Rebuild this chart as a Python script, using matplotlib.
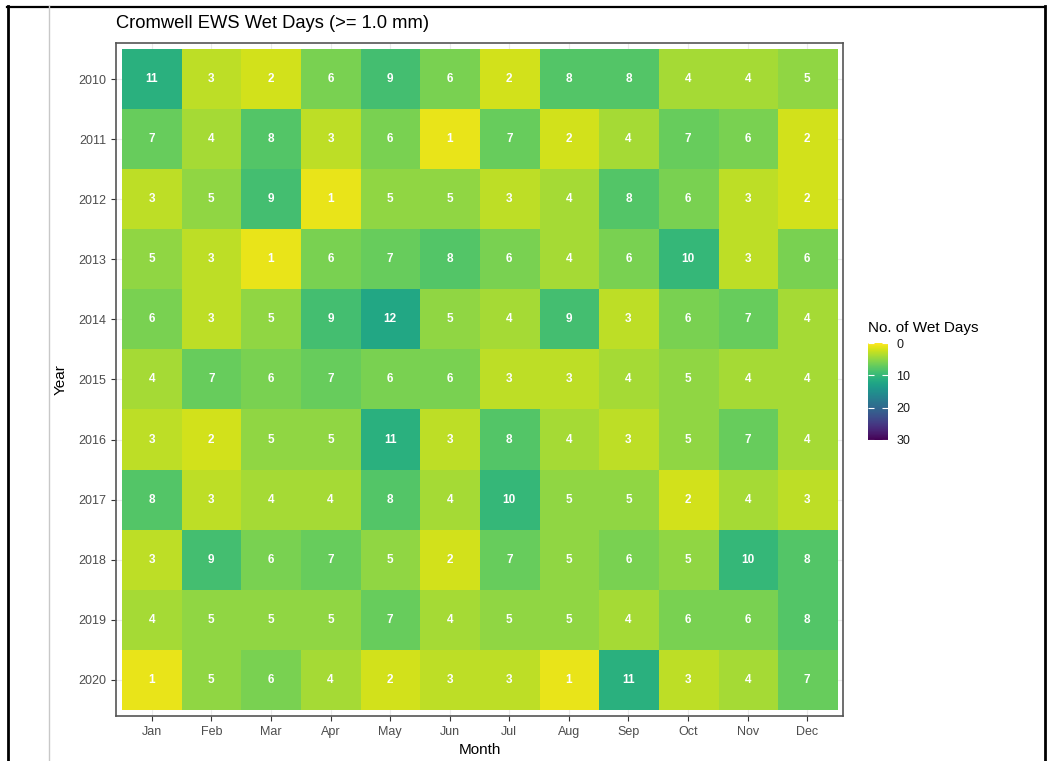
import numpy as np
import matplotlib
matplotlib.use('Agg')
import matplotlib.pyplot as plt
from matplotlib.lines import Line2D

plt.rcParams['font.family'] = ['Liberation Sans', 'DejaVu Sans']

# Wet day counts (>= 1.0 mm) per month, one list per year
months = ['Jan', 'Feb', 'Mar', 'Apr', 'May', 'Jun',
          'Jul', 'Aug', 'Sep', 'Oct', 'Nov', 'Dec']
years = [2010, 2011, 2012, 2013, 2014, 2015, 2016, 2017, 2018, 2019, 2020]
wet_2010 = [11, 3, 2, 6, 9, 6, 2, 8, 8, 4, 4, 5]
wet_2011 = [7, 4, 8, 3, 6, 1, 7, 2, 4, 7, 6, 2]
wet_2012 = [3, 5, 9, 1, 5, 5, 3, 4, 8, 6, 3, 2]
wet_2013 = [5, 3, 1, 6, 7, 8, 6, 4, 6, 10, 3, 6]
wet_2014 = [6, 3, 5, 9, 12, 5, 4, 9, 3, 6, 7, 4]
wet_2015 = [4, 7, 6, 7, 6, 6, 3, 3, 4, 5, 4, 4]
wet_2016 = [3, 2, 5, 5, 11, 3, 8, 4, 3, 5, 7, 4]
wet_2017 = [8, 3, 4, 4, 8, 4, 10, 5, 5, 2, 4, 3]
wet_2018 = [3, 9, 6, 7, 5, 2, 7, 5, 6, 5, 10, 8]
wet_2019 = [4, 5, 5, 5, 7, 4, 5, 5, 4, 6, 6, 8]
wet_2020 = [1, 5, 6, 4, 2, 3, 3, 1, 11, 3, 4, 7]
scale_ticks = [0, 10, 20, 30]

wet = np.array([wet_2010, wet_2011, wet_2012, wet_2013, wet_2014, wet_2015,
                wet_2016, wet_2017, wet_2018, wet_2019, wet_2020])

W, H = 1047, 761
fig = plt.figure(figsize=(W / 100, H / 100), dpi=100)

# page frame lines
def hline(y, x0, x1, color, lw):
    fig.add_artist(Line2D([x0 / W, x1 / W], [1 - y / H, 1 - y / H],
                          color=color, lw=lw, transform=fig.transFigure))

def vline(x, y0, y1, color, lw):
    fig.add_artist(Line2D([x / W, x / W], [1 - y0 / H, 1 - y1 / H],
                          color=color, lw=lw, transform=fig.transFigure))

hline(6.5, 7, 1045, 'black', 1.6)
vline(7.5, 6, H, 'black', 2.0)
vline(1044.5, 6, H, 'black', 2.0)
vline(49, 6, H, '#c8c8c8', 1.0)

ax = fig.add_axes([116 / W, 1 - 716 / H, (843 - 116) / W, (716 - 43) / H])
ax.set_axisbelow(True)
ax.grid(color='#ebebeb', lw=0.8, zorder=0)

nr, nc = wet.shape
im = ax.imshow(wet, cmap='viridis_r', vmin=0, vmax=30, aspect='auto',
               extent=(0.5, nc + 0.5, nr + 0.5, 0.5), interpolation='nearest',
               zorder=2)

for i in range(nr):
    for j in range(nc):
        ax.text(j + 1, i + 1, str(wet[i, j]), ha='center', va='center',
                color='white', fontsize=8.5, fontweight='bold', zorder=3)

ax.set_xlim(0.4, nc + 0.6)
ax.set_ylim(nr + 0.6, 0.4)
ax.set_xticks(range(1, nc + 1))
ax.set_xticklabels(months)
ax.set_yticks(range(1, nr + 1))
ax.set_yticklabels([str(y) for y in years])
ax.tick_params(labelsize=9, labelcolor='#4d4d4d', color='#333333',
               length=3.5, width=0.8)
for s in ax.spines.values():
    s.set_color('#555555')
    s.set_linewidth(1.2)
    s.set_zorder(4)

ax.set_xlabel('Month', fontsize=11, labelpad=4)
ax.set_ylabel('Year', fontsize=11, labelpad=8)
fig.text(116 / W, 1 - 24 / H, 'Cromwell EWS Wet Days (>= 1.0 mm)',
         fontsize=13.2, ha='left', va='center')

# colour scale legend
cax = fig.add_axes([868 / W, 1 - 440 / H, 20 / W, (440 - 343) / H])
cb = fig.colorbar(im, cax=cax, ticks=scale_ticks)
cb.outline.set_visible(False)
cax.invert_yaxis()
cax.tick_params(axis='y', which='both', left=True, right=True,
                direction='in', color='white', length=4, width=0.8,
                labelsize=9, labelcolor='#1a1a1a', pad=6)
fig.text(868 / W, 1 - 328 / H, 'No. of Wet Days', fontsize=11,
         ha='left', va='center')

fig.savefig('out.png', dpi=100)
